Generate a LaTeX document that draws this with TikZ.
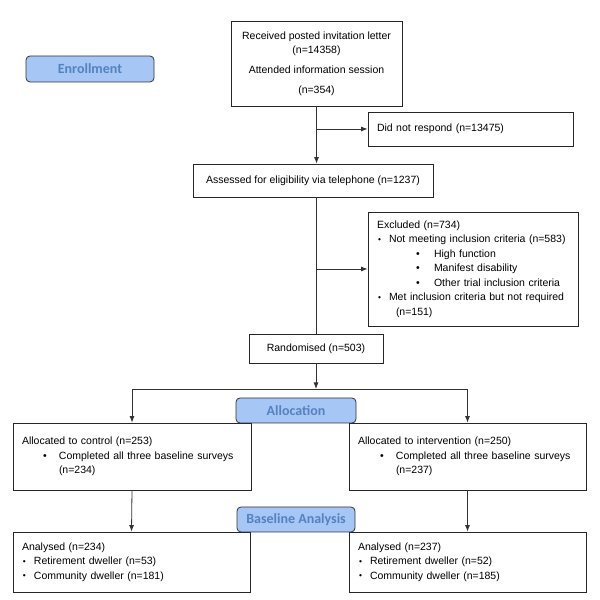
\documentclass[tikz,border=0pt]{standalone}
\usepackage{fontspec}
\usepackage{graphicx}
\setmainfont{Liberation Sans}
\newfontfamily\phasefont{Carlito}
\usetikzlibrary{arrows.meta}

\definecolor{phasefill}{RGB}{166,198,246}
\definecolor{phasetext}{RGB}{84,130,190}

\newcommand{\boxfont}{\fontsize{10.5}{14.5}\selectfont}
\newcommand{\smalldot}{\makebox[12pt][l]{\hspace{1pt}\raisebox{0.6pt}{\scalebox{0.8}{\textbullet}}}}
\newcommand{\bigdot}[2]{\hspace*{#1}\makebox[#2][l]{\textbullet}}

\begin{document}
\begin{tikzpicture}[x=1pt,y=1pt,
  box/.style={draw=black!85, line width=0.8pt, font=\boxfont},
  listbox/.style={box, align=left, inner xsep=9pt, inner ysep=4pt},
  phase/.style={draw=black!80, line width=0.8pt, fill=phasefill, rounded corners=4pt,
    text=phasetext, font=\phasefont\bfseries\fontsize{14}{16}\selectfont},
  link/.style={draw=black!80, line width=0.8pt},
  arr/.style={link, -{Latex[length=6.5pt,width=5pt]}}]

\useasboundingbox (0,0) rectangle (600,600);

\node[box, align=center, minimum width=171, minimum height=85] (invite) at (316.5,536.5)
  {Received posted invitation letter\\[-0.5pt] (n=14358)\\[5.5pt] Attended information session\\[5.5pt] (n=354)};
\node[listbox, text width=187pt, minimum height=34] (noreply) at (470.5,471) {Did not respond (n=13475)};
\node[box, minimum width=240, minimum height=33] (assess) at (313,419.5)
  {Assessed for eligibility via telephone (n=1237)};
\node[listbox, text width=192pt, minimum height=114] (exclude) at (473,331)
  {Excluded (n=734)\\
   \smalldot Not meeting inclusion criteria (n=583)\\
   \bigdot{39pt}{18pt}High function\\
   \bigdot{39pt}{18pt}Manifest disability\\
   \bigdot{39pt}{18pt}Other trial inclusion criteria\\
   \smalldot Met inclusion criteria but not required\\
   \hspace*{19pt}(n=151)};
\node[box, minimum width=134, minimum height=29] (random) at (316,251.5) {Randomised (n=503)};

\node[listbox, text width=220pt, minimum height=67] (control) at (132,143.5)
  {Allocated to control (n=253)\\
   \bigdot{21pt}{16pt}Completed all three baseline surveys\\
   \hspace*{37pt}(n=234)};
\node[listbox, text width=219pt, minimum height=67] (interv) at (467.5,143.5)
  {Allocated to intervention (n=250)\\
   \bigdot{22pt}{16pt}Completed all three baseline surveys\\
   \hspace*{38pt}(n=237)};

\node[listbox, text width=219pt, minimum height=60] (analysedA) at (131.5,38)
  {Analysed (n=234)\\
   \smalldot Retirement dweller (n=53)\\
   \smalldot Community dweller (n=181)};
\node[listbox, text width=219pt, minimum height=60] (analysedB) at (467.5,38)
  {Analysed (n=237)\\
   \smalldot Retirement dweller (n=52)\\
   \smalldot Community dweller (n=185)};

% phase labels
\node[phase, minimum width=128, minimum height=26] (enrol) at (90,531) {Enrollment};
\node[phase, minimum width=120, minimum height=25] (alloc) at (296,189.5) {Allocation};
\node[phase, minimum width=118, minimum height=25] (baseline) at (296,80.5) {Baseline Analysis};

\coordinate (split) at (316,211);

\draw[arr] (invite.south) -- (invite.south |- assess.north);
\draw[arr] (invite.south |- noreply.west) -- (noreply.west);
\draw[link] (random.north |- assess.south) -- (random.north);
\draw[arr] (random.north |- exclude.west) -- (exclude.west);
\draw[arr] (random.south) -- (split);
\draw[arr] (split) -| (control.north);
\draw[arr] (split) -| (interv.north);
\draw[arr] (control.south) -- (analysedA.north);
\draw[arr] (interv.south) -- (analysedB.north);

\end{tikzpicture}
\end{document}
